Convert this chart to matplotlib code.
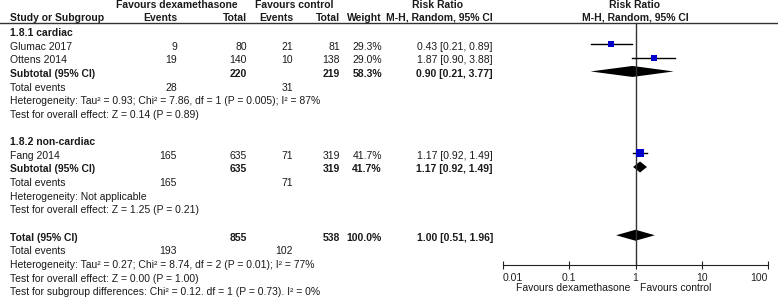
import matplotlib
matplotlib.use("Agg")
import matplotlib.pyplot as plt
from matplotlib.ticker import NullLocator

plt.rcParams['font.family'] = ['Liberation Sans', 'DejaVu Sans']
plt.rcParams['font.size'] = 7.5

# ---- data ----
studies = ["Glumac 2017", "Ottens 2014", "Fang 2014"]
dex_events = [9, 19, 165]
dex_total = [80, 140, 635]
ctl_events = [21, 10, 71]
ctl_total = [81, 138, 319]
weights = [29.3, 29.0, 41.7]
rr = [0.43, 1.87, 1.17]
rr_lo = [0.21, 0.90, 0.92]
rr_hi = [0.89, 3.88, 1.49]

# subgroup + overall pooled results
pooled_labels = ["Subtotal (95% CI)", "Subtotal (95% CI)", "Total (95% CI)"]
pooled_dex_total = [220, 635, 855]
pooled_ctl_total = [219, 319, 538]
pooled_weight = [58.3, 41.7, 100.0]
pooled_rr = [0.90, 1.17, 1.00]
pooled_lo = [0.21, 0.92, 0.51]
pooled_hi = [3.77, 1.49, 1.96]
pooled_dex_events = [28, 165, 193]
pooled_ctl_events = [31, 71, 102]

heterogeneity = [
    "Heterogeneity: Tau\u00b2 = 0.93; Chi\u00b2 = 7.86, df = 1 (P = 0.005); I\u00b2 = 87%",
    "Heterogeneity: Not applicable",
    "Heterogeneity: Tau\u00b2 = 0.27; Chi\u00b2 = 8.74, df = 2 (P = 0.01); I\u00b2 = 77%",
]
overall_effect = [
    "Test for overall effect: Z = 0.14 (P = 0.89)",
    "Test for overall effect: Z = 1.25 (P = 0.21)",
    "Test for overall effect: Z = 0.00 (P = 1.00)",
]
subgroup_names = ["1.8.1 cardiac", "1.8.2 non-cardiac"]
subgroup_diff = "Test for subgroup differences: Chi\u00b2 = 0.12. df = 1 (P = 0.73). I\u00b2 = 0%"

axis_ticks = [0.01, 0.1, 1, 10, 100]
axis_ticklabels = ["0.01", "0.1", "1", "10", "100"]

# ---- layout (pixel rows) ----
W, H = 778, 303
step = 13.65
row0 = 33
def row(k):
    return row0 + step * k

study_rows = [row(1), row(2), row(9)]
pooled_rows = [row(3), row(10), row(15)]
events_rows = [row(4), row(11), row(16)]
het_rows = [row(5), row(12), row(17)]
test_rows = [row(6), row(13), row(18)]
group_rows = [row(0), row(8)]

COL_NAME = 10
COL_DEX_E = 177
COL_DEX_T = 247
COL_CTL_E = 293
COL_CTL_T = 340
COL_W = 382
COL_CI = 493
TXT = "#1a1a1a"

fig = plt.figure(figsize=(W / 100, H / 100), dpi=100)
ax_t = fig.add_axes([0, 0, 1, 1])
ax_t.set_xlim(0, W)
ax_t.set_ylim(H, 0)
ax_t.axis("off")

def t(x, y, s, ha="left", bold=False):
    ax_t.text(x, y, s, ha=ha, va="center", color=TXT,
              fontweight="bold" if bold else "normal")

# header
t(177, 5, "Favours dexamethasone", ha="center", bold=True)
t(294, 5, "Favours control", ha="center", bold=True)
t(438, 5, "Risk Ratio", ha="center", bold=True)
t(635, 5, "Risk Ratio", ha="center", bold=True)
t(COL_NAME, 18, "Study or Subgroup", bold=True)
t(COL_DEX_E, 18, "Events", ha="right", bold=True)
t(COL_DEX_T, 18, "Total", ha="right", bold=True)
t(COL_CTL_E, 18, "Events", ha="right", bold=True)
t(COL_CTL_T, 18, "Total", ha="right", bold=True)
t(COL_W, 18, "Weight", ha="right", bold=True)
t(COL_CI, 18, "M-H, Random, 95% CI", ha="right", bold=True)
t(635, 18, "M-H, Random, 95% CI", ha="center", bold=True)
ax_t.plot([0, W], [22.5, 22.5], color="#333333", lw=1)

for name, y in zip(subgroup_names, group_rows):
    t(COL_NAME, y, name, bold=True)

for i, y in enumerate(study_rows):
    t(COL_NAME, y, studies[i])
    t(COL_DEX_E, y, str(dex_events[i]), ha="right")
    t(COL_DEX_T, y, str(dex_total[i]), ha="right")
    t(COL_CTL_E, y, str(ctl_events[i]), ha="right")
    t(COL_CTL_T, y, str(ctl_total[i]), ha="right")
    t(COL_W, y, f"{weights[i]:.1f}%", ha="right")
    t(COL_CI, y, f"{rr[i]:.2f} [{rr_lo[i]:.2f}, {rr_hi[i]:.2f}]", ha="right")

for i, y in enumerate(pooled_rows):
    t(COL_NAME, y, pooled_labels[i], bold=True)
    t(COL_DEX_T, y, str(pooled_dex_total[i]), ha="right", bold=True)
    t(COL_CTL_T, y, str(pooled_ctl_total[i]), ha="right", bold=True)
    t(COL_W, y, f"{pooled_weight[i]:.1f}%", ha="right", bold=True)
    t(COL_CI, y, f"{pooled_rr[i]:.2f} [{pooled_lo[i]:.2f}, {pooled_hi[i]:.2f}]",
      ha="right", bold=True)
    ey = events_rows[i]
    t(COL_NAME, ey, "Total events")
    t(COL_DEX_E, ey, str(pooled_dex_events[i]), ha="right")
    t(COL_CTL_E, ey, str(pooled_ctl_events[i]), ha="right")
    t(COL_NAME, het_rows[i], heterogeneity[i])
    t(COL_NAME, test_rows[i], overall_effect[i])

t(COL_NAME, row(19), subgroup_diff)

# ---- forest panel ----
x0, x1 = 503, 768
ax = fig.add_axes([x0 / W, 0, (x1 - x0) / W, 1])
ax.set_xscale("log")
ax.set_xlim(0.01, 100)
ax.set_ylim(H, 0)
ax.patch.set_alpha(0)
for s in ["top", "right", "left"]:
    ax.spines[s].set_visible(False)
ax.spines["bottom"].set_position(("data", 265))
ax.spines["bottom"].set_color("#222222")
ax.set_yticks([])
ax.set_xticks(axis_ticks)
ax.set_xticklabels(axis_ticklabels)
ax.xaxis.set_minor_locator(NullLocator())
ax.tick_params(axis="x", direction="inout", length=6, pad=3, labelsize=7.5,
               colors="#222222")
labels = ax.get_xticklabels()
labels[0].set_ha("left")
labels[-1].set_ha("right")

ax.vlines(1, 22.5, 265, color="#333333", lw=1)

mark_off = -2.5
for i, y in enumerate(study_rows):
    ym = y + mark_off
    ax.plot([rr_lo[i], rr_hi[i]], [ym, ym], color="black", lw=1)
    ax.plot(rr[i], ym, marker="s", color="#0000c8",
            markersize=weights[i] * 0.125, markeredgewidth=0)

dh = 5.5
for i, y in enumerate(pooled_rows):
    ym = y + mark_off
    ax.fill([pooled_lo[i], pooled_rr[i], pooled_hi[i], pooled_rr[i]],
            [ym, ym - dh, ym, ym + dh], color="black", lw=0)

ax.annotate("Favours dexamethasone", xy=(1, 288), xytext=(-5, 0),
            textcoords="offset pixels", ha="right", va="center", color=TXT)
ax.annotate("Favours control", xy=(1, 288), xytext=(4, 0),
            textcoords="offset pixels", ha="left", va="center", color=TXT)

fig.savefig("out.png", dpi=100)
